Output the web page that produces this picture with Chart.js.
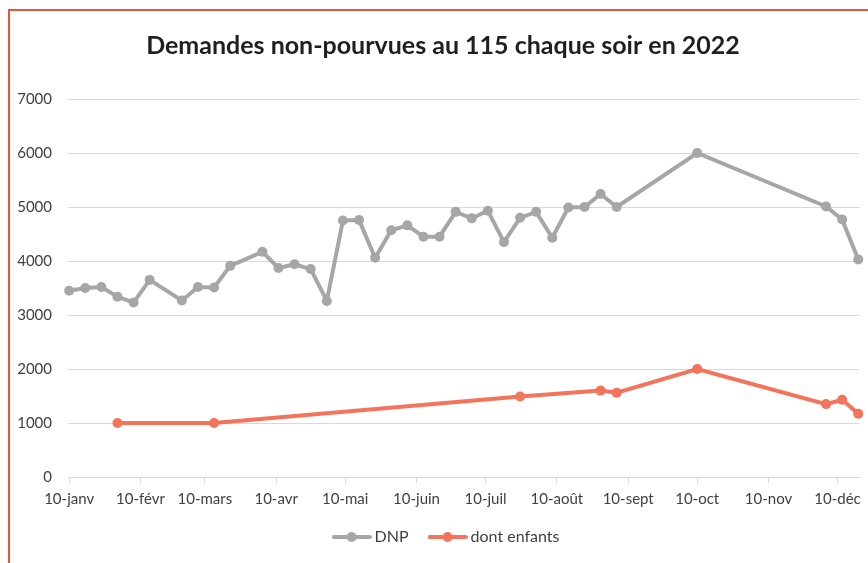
<!DOCTYPE html>
<html lang="fr">
<head>
<meta charset="utf-8">
<title>Demandes non-pourvues au 115</title>
<script src="https://cdn.jsdelivr.net/npm/chart.js@4"></script>
<style>
  html, body { margin: 0; padding: 0; background: #fff; }
  #wrap { position: relative; width: 868px; height: 563px; overflow: hidden; }
  #frame {
    position: absolute; left: 8px; top: 9px; width: 900px; height: 600px;
    border-left: 2.5px solid #e8553f; border-top: 2.5px solid #e8553f;
  }
  canvas { position: absolute; left: 0; top: 0; }
</style>
</head>
<body>
<div id="wrap">
  <div id="frame"></div>
  <canvas id="myChart" width="868" height="563"></canvas>
</div>
<script>
// weekly readings (mondays), 2022
const dnpDates = ['2022-01-10', '2022-01-17', '2022-01-24', '2022-01-31', '2022-02-07', '2022-02-14',
    '2022-02-28', '2022-03-07', '2022-03-14', '2022-03-21', '2022-04-04', '2022-04-11', '2022-04-18',
    '2022-04-25', '2022-05-02', '2022-05-09', '2022-05-16', '2022-05-23', '2022-05-30', '2022-06-06',
    '2022-06-13', '2022-06-20', '2022-06-27', '2022-07-04', '2022-07-11', '2022-07-18', '2022-07-25',
    '2022-08-01', '2022-08-08', '2022-08-15', '2022-08-22', '2022-08-29', '2022-09-05', '2022-10-10',
    '2022-12-05', '2022-12-12', '2022-12-19'];
const dnpValues = [3450, 3500, 3520, 3340, 3230, 3650,
    3270, 3520, 3510, 3910, 4170, 3870, 3940,
    3850, 3260, 4750, 4760, 4060, 4570, 4660,
    4450, 4450, 4910, 4790, 4930, 4350, 4800,
    4910, 4430, 4990, 5000, 5240, 5000, 6000,
    5010, 4770, 4030];

const enfantsDates = ['2022-01-31', '2022-03-14', '2022-07-25', '2022-08-29', '2022-09-05', '2022-10-10',
    '2022-12-05', '2022-12-12', '2022-12-19'];
const enfantsValues = [1000, 1000, 1490, 1600, 1560, 2000, 1350, 1430, 1170];

const tickDates = ['2022-01-10', '2022-02-10', '2022-03-10', '2022-04-10', '2022-05-10', '2022-06-10',
    '2022-07-10', '2022-08-10', '2022-09-10', '2022-10-10', '2022-11-10', '2022-12-10'];
const tickLabels = ['10-janv', '10-févr', '10-mars', '10-avr', '10-mai', '10-juin',
    '10-juil', '10-août', '10-sept', '10-oct', '10-nov', '10-déc'];

const GREY = '#a6a6a8';
const ORANGE = '#f4735b';

// day of year from a date string
function dayOf(str) {
    const d = new Date(str + 'T00:00:00Z');
    return Math.round((d - Date.UTC(2022, 0, 1)) / 86400000) + 1;
}

const toPoints = (dates, values) => dates.map((d, i) => ({ x: dayOf(d), y: values[i] }));
const tickDays = tickDates.map(dayOf);

// little line + dot swatch for the legend
function swatch(color) {
    const c = document.createElement('canvas');
    c.width = 40; c.height = 12;
    const ctx = c.getContext('2d');
    ctx.strokeStyle = color;
    ctx.lineWidth = 4;
    ctx.lineCap = 'round';
    ctx.beginPath();
    ctx.moveTo(2, 6);
    ctx.lineTo(38, 6);
    ctx.stroke();
    ctx.fillStyle = color;
    ctx.beginPath();
    ctx.arc(20, 6, 5, 0, Math.PI * 2);
    ctx.fill();
    return c;
}

// excel puts title and legend a bit right of centre
const nudge = {
    id: 'nudge',
    afterLayout(chart) {
        chart.legend.left += 18;
        chart.legend.right += 18;
        chart.legend.top -= 4;
        chart.legend.bottom -= 4;
        chart.titleBlock.left += 13;
        chart.titleBlock.right += 13;
    },
};

const data = {
    datasets: [
        {
            label: 'DNP',
            data: toPoints(dnpDates, dnpValues),
            borderColor: GREY,
            backgroundColor: GREY,
            borderWidth: 4,
            pointRadius: 5,
            pointHoverRadius: 5,
            pointBorderWidth: 0,
            clip: false,
        },
        {
            label: 'dont enfants',
            data: toPoints(enfantsDates, enfantsValues),
            borderColor: ORANGE,
            backgroundColor: ORANGE,
            borderWidth: 4,
            pointRadius: 5,
            pointHoverRadius: 5,
            pointBorderWidth: 0,
            clip: false,
        },
    ],
};

const tickFont = { family: 'Lato, "Open Sans", sans-serif', size: 15 };

const config = {
    type: 'line',
    data: data,
    plugins: [nudge],
    options: {
        responsive: false,
        animation: false,
        layout: { padding: { left: 0, right: 8, top: 10, bottom: 4 } },
        plugins: {
            title: {
                display: true,
                text: 'Demandes non-pourvues au 115 chaque soir en 2022',
                color: '#1f1f1f',
                font: { family: 'Lato, "Open Sans", sans-serif', size: 25, weight: 'bold' },
                padding: { top: 21, bottom: 38 },
            },
            legend: {
                position: 'bottom',
                labels: {
                    usePointStyle: true,
                    pointStyleWidth: 30,
                    padding: 24,
                    color: '#404040',
                    font: { family: 'Lato, "Open Sans", sans-serif', size: 16 },
                    generateLabels: (chart) => chart.data.datasets.map((ds, i) => ({
                        text: ds.label,
                        pointStyle: swatch(ds.borderColor),
                        fontColor: '#404040',
                        lineWidth: 0,
                        datasetIndex: i,
                    })),
                },
            },
            tooltip: { enabled: false },
        },
        scales: {
            x: {
                type: 'linear',
                min: 9.5,
                max: 353.5,
                afterBuildTicks: (scale) => { scale.ticks = tickDays.map(v => ({ value: v })); },
                afterFit: (scale) => { scale.height = 32; },
                ticks: {
                    autoSkip: false,
                    maxRotation: 0,
                    padding: 7,
                    color: '#404040',
                    font: tickFont,
                    callback: (value) => tickLabels[tickDays.indexOf(value)],
                },
                grid: {
                    drawOnChartArea: false,
                    drawTicks: true,
                    tickLength: 6,
                    tickColor: '#d9d9d9',
                },
                border: { color: '#d9d9d9', width: 1 },
            },
            y: {
                min: 0,
                max: 7000,
                afterFit: (scale) => { scale.width = 68; },
                ticks: {
                    stepSize: 1000,
                    padding: 16,
                    color: '#404040',
                    font: tickFont,
                    callback: (value) => String(value),
                },
                grid: { color: '#d9d9d9', drawTicks: false },
                border: { display: false },
            },
        },
    },
};

new Chart(document.getElementById('myChart'), config);
</script>
</body>
</html>
